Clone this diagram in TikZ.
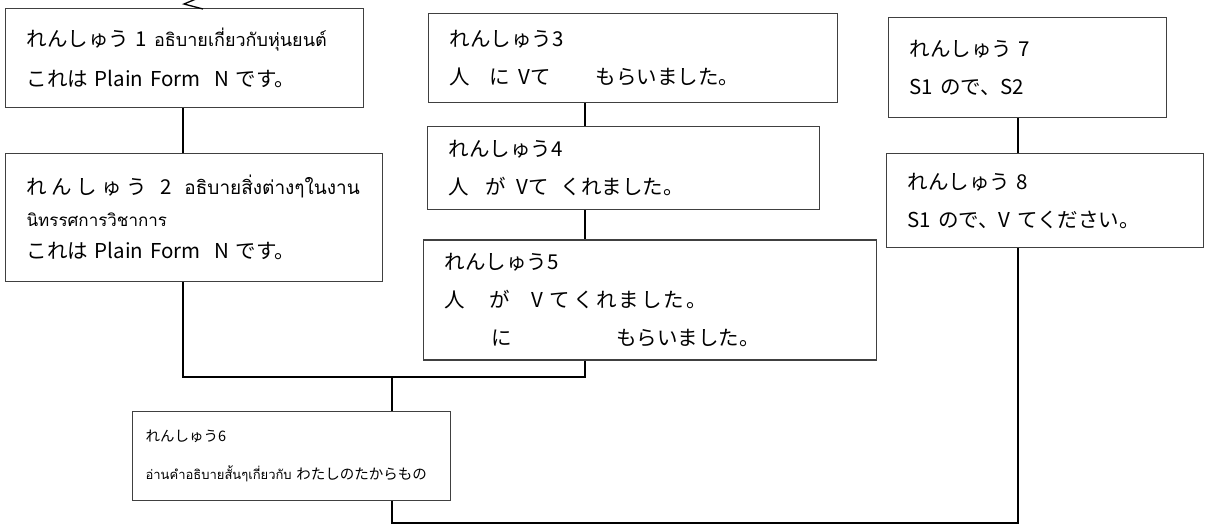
\documentclass[tikz,border=0pt]{standalone}
\usepackage{fontspec}
\setmainfont{Noto Sans CJK JP}
\newfontfamily\thai[Script=Thai]{Loma}
\usetikzlibrary{positioning}

\newcommand{\thtxt}[2]{{\thai\fontsize{#1}{38}\selectfont #2}}

\begin{document}
\begin{tikzpicture}[
  x=1pt, y=-1pt,
  every node/.style={font=\fontsize{20.5}{38}\selectfont},
  ex/.style={draw=black!75, line width=1.2pt, rectangle, inner xsep=21pt, inner ysep=0pt, align=left, anchor=north west},
  link/.style={line width=1.6pt, black}
]
\useasboundingbox (0,0) rectangle (1211,525);

% left column
\node[ex, text width=316pt, minimum height=99pt] (b1) at (5,8)
  {\mbox{れんしゅう 1 \thtxt{18}{อธิบายเกี่ยวกับหุ่นยนต์}}\\[2pt]
   これは Plain Form\ \ N です。};
\node[ex, below=45pt of b1.south west, anchor=north west, text width=335pt, minimum height=128pt,
  font=\fontsize{20.5}{32}\selectfont] (b2)
  {\mbox{れ\hspace{4.5pt}ん\hspace{4.5pt}し\hspace{4.5pt}ゅ\hspace{4.5pt}う\hspace{13pt}2\hspace{13pt}\thtxt{19}{อธิบายสิ่งต่างๆในงาน}}\\
   \thtxt{17}{นิทรรศการวิชาการ}\\
   これは Plain Form\ \ N です。};

% middle column
\node[ex, text width=367pt, minimum height=89pt] (b3) at (428,13)
  {れんしゅう3\\
   人\hspace{19pt}に\hspace{9pt}Vて\hspace{45pt}もらいました。};
\node[ex, below=23pt of b3.south west, anchor=north west, xshift=-1pt, text width=350pt, minimum height=83pt] (b4)
  {れんしゅう4\\
   人\hspace{16pt}が\hspace{11pt}Vて\hspace{12pt}くれました。};
\node[ex, below=29pt of b4.south west, anchor=north west, xshift=-4pt, text width=411pt, minimum height=120pt] (b5)
  {れんしゅう5\\
   人\hspace{24pt}が\hspace{22pt}V\hspace{6pt}て\hspace{4pt}く\hspace{2pt}れ\hspace{2pt}ま\hspace{2pt}し\hspace{2pt}た\hspace{2pt}。\\
   \hspace{47pt}に\hspace{104pt}もらいました。};

% bottom box
\node[ex, inner xsep=13pt, text width=292pt, minimum height=89pt, font=\fontsize{14.5}{38}\selectfont] (b6) at (132,411)
  {れんしゅう6\\
   \mbox{\thtxt{13}{อ่านคำอธิบายสั้นๆเกี่ยวกับ} わたしのたからもの}};

% right column
\node[ex, text width=236pt, minimum height=100pt] (b7) at (888,17)
  {れんしゅう 7\\
   S1 ので、S2};
\node[ex, below=35pt of b7.south west, anchor=north west, xshift=-2pt, text width=275pt, minimum height=94pt] (b8)
  {れんしゅう 8\\
   S1 ので、V てください。};

% joints
\coordinate (lx) at (183,0);
\coordinate (mx) at (585,0);
\coordinate (rx) at (1018,0);
\coordinate (jn) at (392,377);
\coordinate (jb) at (392,523);
\coordinate (tipa) at (196,-1);
\coordinate (tipb) at (184,4);
\coordinate (tipc) at (203,9);

\draw[link] (b1.south -| lx) -- (b2.north -| lx);
\draw[link] (b2.south -| lx) |- (jn);
\draw[link] (b3.south -| mx) -- (b4.north -| mx);
\draw[link] (b4.south -| mx) -- (b5.north -| mx);
\draw[link] (b5.south -| mx) |- (jn);
\draw[link] (jn) -- (b6.north -| jn);
\draw[link] (b6.south -| jn) -- (jb) -| (b8.south -| rx);
\draw[link] (b7.south -| rx) -- (b8.north -| rx);
\draw[link, line width=1.3pt] (tipa) -- (tipb) -- (tipc);
\end{tikzpicture}
\end{document}
